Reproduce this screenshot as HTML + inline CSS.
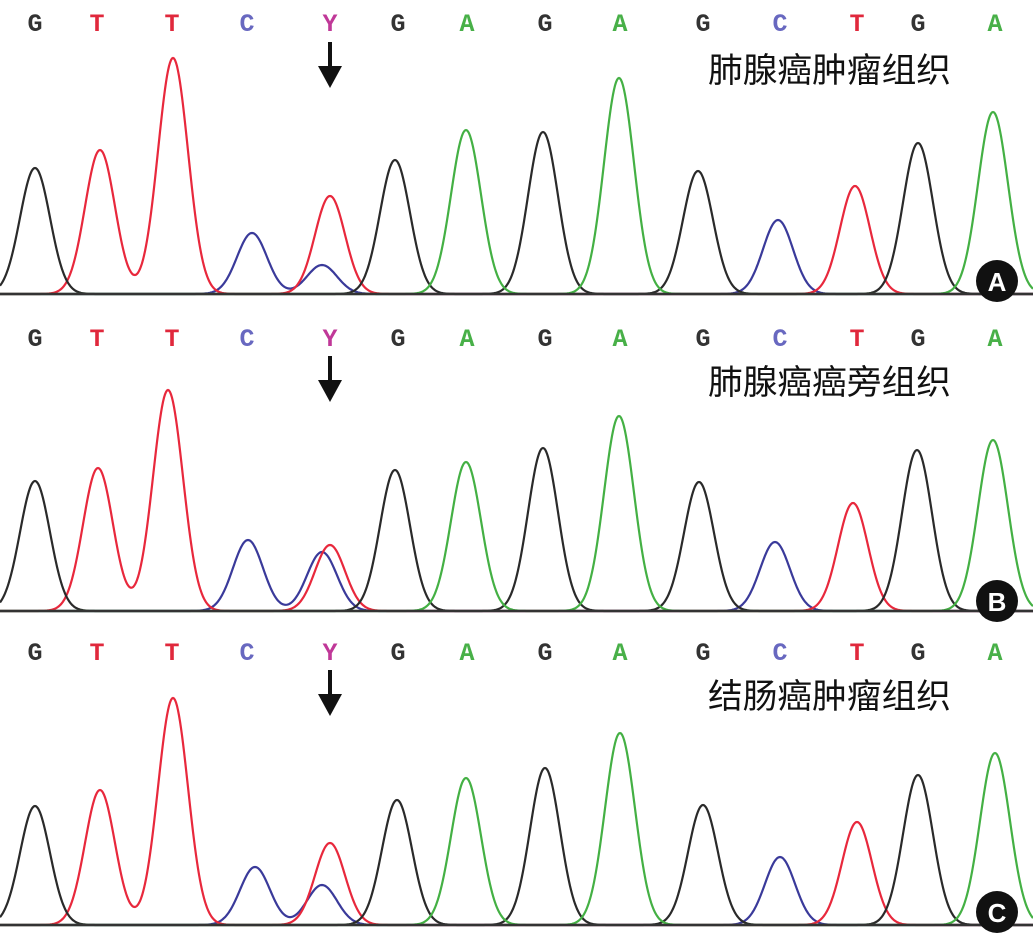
<!DOCTYPE html>
<html><head><meta charset="utf-8">
<style>
html,body{margin:0;padding:0;background:#fff;}
body{width:1033px;height:933px;overflow:hidden;position:relative;}
svg{position:absolute;left:0;top:0;}
</style></head>
<body>
<svg id="s" width="1033" height="933" xmlns="http://www.w3.org/2000/svg">
<g id="g"></g>
<g font-family="Liberation Mono, monospace" font-weight="bold" font-size="25" text-anchor="middle" id="letters"></g>
<g font-family="'Liberation Sans','Noto Sans CJK SC',sans-serif" font-size="34" fill="#111" text-anchor="end">
<text x="951" y="82" textLength="243" lengthAdjust="spacingAndGlyphs">肺腺癌肿瘤组织</text>
<text x="951" y="394" textLength="243" lengthAdjust="spacingAndGlyphs">肺腺癌癌旁组织</text>
<text x="951" y="708" textLength="243" lengthAdjust="spacingAndGlyphs">结肠癌肿瘤组织</text>
</g>
<g fill="#111">
<circle cx="997" cy="281" r="21"/><circle cx="997" cy="601" r="21"/><circle cx="997" cy="912" r="21"/>
</g>
<g font-family="'Liberation Sans',sans-serif" font-weight="bold" font-size="26" fill="#fff" text-anchor="middle">
<text x="997" y="291">A</text><text x="997" y="611">B</text><text x="997" y="922">C</text>
</g>
<g stroke="#111" stroke-width="4" fill="#111">
<line x1="330" y1="42" x2="330" y2="72"/><polygon stroke="none" points="318,66 342,66 330,88"/>
<line x1="330" y1="356" x2="330" y2="384"/><polygon stroke="none" points="318,380 342,380 330,402"/>
<line x1="330" y1="670" x2="330" y2="698"/><polygon stroke="none" points="318,694 342,694 330,716"/>
</g>
</svg>
<script>
var C={k:'#2a2a2a',r:'#e8283c',b:'#3a3a9a',g:'#44b044'};
var LC={G:'#333',T:'#e0283c',C:'#6868c0',Y:'#c03898',A:'#48b048'};
var letters=[['G',35],['T',97],['T',172],['C',247],['Y',330],['G',398],['A',467],['G',545],['A',620],['G',703],['C',780],['T',857],['G',918],['A',995]];
var panels=[
{base:294,ly:31,p:[['k',35,168],['r',100,150],['r',173,58],['b',252,233],['r',330,196],['b',322,265],['k',395,160],['g',466,130],['k',543,132],['g',619,78],['k',698,171],['b',778,220],['r',855,186],['k',918,143],['g',993,112]]},
{base:611,ly:346,p:[['k',35,481],['r',98,468],['r',168,390],['b',248,540],['r',330,545],['b',322,552],['k',395,470],['g',466,462],['k',543,448],['g',619,416],['k',699,482],['b',775,542],['r',853,503],['k',917,450],['g',993,440]]},
{base:925,ly:660,p:[['k',35,806],['r',100,790],['r',173,698],['b',255,867],['r',330,843],['b',322,885],['k',397,800],['g',466,778],['k',545,768],['g',620,733],['k',703,805],['b',780,857],['r',857,822],['k',918,775],['g',995,753]]}
];
var g=document.getElementById('g'),L=document.getElementById('letters'),ns='http://www.w3.org/2000/svg';
panels.forEach(function(P){
 ['b','r','k','g'].forEach(function(c){
  var pk=P.p.filter(function(q){return q[0]==c;});
  var d='';
  for(var x=0;x<=1033;x+=1){
   var y=0;pk.forEach(function(q){var h=P.base-q[2];y+=h*Math.exp(-Math.pow(x-q[1],2)/(2*15*15));});
   d+=(x?'L':'M')+x+' '+(P.base-y).toFixed(1);
  }
  var pa=document.createElementNS(ns,'path');pa.setAttribute('d',d);pa.setAttribute('fill','none');
  pa.setAttribute('stroke',C[c]);pa.setAttribute('stroke-width','2.2');g.appendChild(pa);
 });
 var ln=document.createElementNS(ns,'line');ln.setAttribute('x1',0);ln.setAttribute('x2',1033);
 ln.setAttribute('y1',P.base);ln.setAttribute('y2',P.base);ln.setAttribute('stroke','#333');ln.setAttribute('stroke-width','2.5');g.appendChild(ln);
 letters.forEach(function(l){var t=document.createElementNS(ns,'text');t.setAttribute('x',l[1]);t.setAttribute('y',P.ly);
  t.setAttribute('fill',LC[l[0]]);t.textContent=l[0];L.appendChild(t);});
});
</script>
</body></html>
